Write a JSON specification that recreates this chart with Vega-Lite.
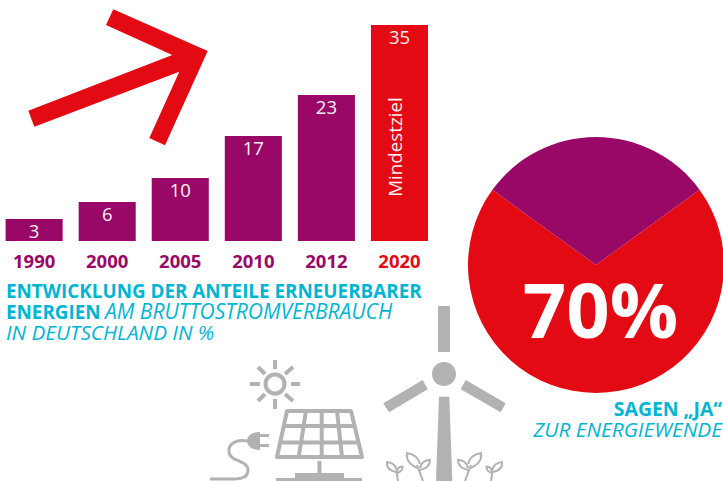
{
"$schema":"https://vega.github.io/schema/vega-lite/v6.json",
"autosize":{"type":"fit","contains":"padding"},
"width":723,"height":481,"padding":0,
"background":"white",
"config":{"view":{"stroke":null},"font":"Open Sans"},
"resolve":{"scale":{"color":"independent"}},
"datasets":{
"anteile":[
{"jahr":"1990","wert":3,"hoehe":3.57,"art":"Anteil"},
{"jahr":"2000","wert":6,"hoehe":6.32,"art":"Anteil"},
{"jahr":"2005","wert":10,"hoehe":10.2,"art":"Anteil"},
{"jahr":"2010","wert":17,"hoehe":17,"art":"Anteil"},
{"jahr":"2012","wert":23,"hoehe":23.66,"art":"Anteil"},
{"jahr":"2020","wert":35,"hoehe":35,"art":"Mindestziel"}],
"umfrage":[{"antwort":"Ja","prozent":70,"rang":1},{"antwort":"Nein","prozent":30,"rang":2}],
"bild":[{"motiv":"Piktogramm"}]
},
"layer":[
{"data":{"name":"bild"},"mark":{"type":"point","filled":true,"opacity":1,"color":"#e30a13","size":4,"shape":"M28.3 110.7 L172.3 55 L106 25 L113.3 9.3 L207.7 51 L165 145.3 L149.3 138 L179.3 71.7 L34.3 126.7 Z"},"encoding":{"x":{"value":0},"y":{"value":0}}},
{"data":{"name":"anteile"},"mark":{"type":"bar"},
 "encoding":{
 "x":{"field":"jahr","type":"nominal","sort":null,"scale":{"type":"band","range":[5.6,428],"paddingInner":0.219,"paddingOuter":0},
  "axis":{"orient":"bottom","offset":-240,"domain":false,"ticks":false,"title":null,"labelAngle":0,"labelFont":"Open Sans","labelFontSize":18.5,"labelFontWeight":"bold","labelPadding":15,"labelColor":{"condition":{"test":"datum.value=='2020'","value":"#e30a13"},"value":"#990867"}}},
 "y":{"field":"hoehe","type":"quantitative","scale":{"domain":[0,35],"range":[241,25],"nice":false},"axis":null},
 "color":{"field":"art","type":"nominal","scale":{"domain":["Anteil","Mindestziel"],"range":["#990867","#e30a13"]},"legend":null}}},
{"data":{"name":"anteile"},"mark":{"type":"text","color":"#f7f0f4","font":"Open Sans","fontSize":18.5,"baseline":"middle","dy":13},
 "encoding":{"x":{"field":"jahr","type":"nominal","sort":null},"y":{"field":"hoehe","type":"quantitative"},"text":{"field":"wert","type":"quantitative"}}},
{"data":{"values":[{"jahr":"2020","hinweis":"Mindestziel"}]},"mark":{"type":"text","color":"#f7f0f4","font":"Open Sans","fontSize":18.8,"angle":270,"baseline":"middle","align":"center","xOffset":-3},
 "encoding":{"x":{"field":"jahr","type":"nominal","sort":null},"y":{"value":147},"text":{"field":"hinweis"}}},
{"data":{"name":"umfrage"},"mark":{"type":"arc","outerRadius":128,"innerRadius":0,"stroke":null},
 "encoding":{"x":{"value":596},"y":{"value":265},
 "theta":{"field":"prozent","type":"quantitative","stack":true,"scale":{"domain":[0,100],"range":[0.942,7.225]}},
 "order":{"field":"rang"},
 "color":{"field":"antwort","type":"nominal","scale":{"domain":["Ja","Nein"],"range":["#e30a13","#990867"]},"legend":null}}},
{"data":{"values":[{"t":"70%"}]},"mark":{"type":"text","color":"white","font":"Open Sans","fontWeight":"bold","fontSize":76,"baseline":"middle","align":"center"},"encoding":{"x":{"value":600.5},"y":{"value":315},"text":{"field":"t"}}},
{"data":{"values":[{"t":"ENTWICKLUNG DER ANTEILE ERNEUERBARER"}]},"mark":{"type":"text","color":"#00b5d1","font":"Open Sans","fontWeight":"bold","fontSize":18.85,"baseline":"middle","align":"left"},"encoding":{"x":{"value":6},"y":{"value":292},"text":{"field":"t"}}},
{"data":{"values":[{"t":"ENERGIEN"}]},"mark":{"type":"text","color":"#00b5d1","font":"Open Sans","fontWeight":"bold","fontSize":18.85,"baseline":"middle","align":"left"},"encoding":{"x":{"value":6},"y":{"value":313},"text":{"field":"t"}}},
{"data":{"values":[{"t":"AM BRUTTOSTROMVERBRAUCH"}]},"mark":{"type":"text","color":"#00b5d1","font":"Open Sans","fontStyle":"italic","fontSize":21,"baseline":"middle","align":"left"},"encoding":{"x":{"value":105},"y":{"value":313},"text":{"field":"t"}}},
{"data":{"values":[{"t":"IN DEUTSCHLAND IN %"}]},"mark":{"type":"text","color":"#00b5d1","font":"Open Sans","fontStyle":"italic","fontSize":20.7,"baseline":"middle","align":"left"},"encoding":{"x":{"value":6},"y":{"value":334},"text":{"field":"t"}}},
{"data":{"values":[{"t":"SAGEN „JA“"}]},"mark":{"type":"text","color":"#00b5d1","font":"Open Sans","fontWeight":"bold","fontSize":19.4,"baseline":"middle","align":"right"},"encoding":{"x":{"value":722},"y":{"value":410},"text":{"field":"t"}}},
{"data":{"values":[{"t":"ZUR ENERGIEWENDE"}]},"mark":{"type":"text","color":"#00b5d1","font":"Open Sans","fontStyle":"italic","fontSize":20.8,"baseline":"middle","align":"right"},"encoding":{"x":{"value":722},"y":{"value":431},"text":{"field":"t"}}},
{"data":{"name":"bild"},"mark":{"type":"point","filled":true,"opacity":1,"color":"#b2b2b2","size":4,"shape":"M438 306 L450 306 L450 352 L438 352 Z M432 374 A12 12 0 1 0 456 374 A12 12 0 1 0 432 374 Z M383.3 403.3 L422.7 380 L427.7 389.3 L389 412.3 Z M460.7 389.3 L465.7 380 L505.7 403.3 L500.7 412.3 Z M439 396.7 L449.3 396.7 L452.3 481 L436 481 Z M317.5 461 L321.5 461 L321.5 473 L317.5 473 Z M295 473 L344 473 L344 478 L295 478 Z M276 478 L362 478 L362 481 L276 481 Z M247 441 C247 436 252 432 260 432 L260 450 C252 450 247 446 247 441 Z M260 434 L269 434 L269 437 L260 437 Z M260 444 L269 444 L269 447 L260 447 Z"},"encoding":{"x":{"value":0},"y":{"value":0}}},
{"data":{"name":"bild"},"mark":{"type":"point","filled":false,"opacity":1,"color":"#b2b2b2","strokeWidth":4,"strokeJoin":"round","size":4,"shape":"M265.5 384 A9.5 9.5 0 1 0 284.5 384 A9.5 9.5 0 1 0 265.5 384 Z M275 360 L275 369 M275 399 L275 409 M250 384 L260 384 M291 384 L300 384 M258 367 L265 374 M285 374 L293 367 M258 401 L265 394 M285 394 L293 401 M287 411 L351 411 L362 457 L277 457 Z M284 426 L355 426 M280.5 442.5 L358.5 442.5 M306 411 L298.7 457 M321.7 411 L321.7 457 M337 411 L342 457"},"encoding":{"x":{"value":0},"y":{"value":0}}},
{"data":{"name":"bild"},"mark":{"type":"point","filled":false,"opacity":1,"color":"#b2b2b2","strokeWidth":3,"size":4,"shape":"M247 441 C236 439 228 444 229 452 C230 462 248 460 248 470 C248 478 240 479 234 479 L210 479"},"encoding":{"x":{"value":0},"y":{"value":0}}},
{"data":{"name":"bild"},"mark":{"type":"point","filled":false,"opacity":1,"color":"#b2b2b2","strokeWidth":2,"size":4,"shape":"M423 481 L417 465 M417 468 Q405 462 407 453 Q418 455 420 464 M420 468 Q422 460 430 460 Q430 468 420 470 M398 481 L396.5 472 M396.5 472 Q386 470 387 462 Q395 463 397 470 M397 472 Q397 467 402.5 466.5 Q403 471 397 473 M465 481 L471 465 M471 468 Q483 462 481 453 Q470 455 468 464 M468 468 Q466 460 458 460 Q458 468 468 470 M491 481 L492.5 472 M492.5 472 Q503 470 502 462 Q494 463 492 470 M492 472 Q492 467 486.5 466.5 Q486 471 492 473"},"encoding":{"x":{"value":0},"y":{"value":0}}}
]
}
